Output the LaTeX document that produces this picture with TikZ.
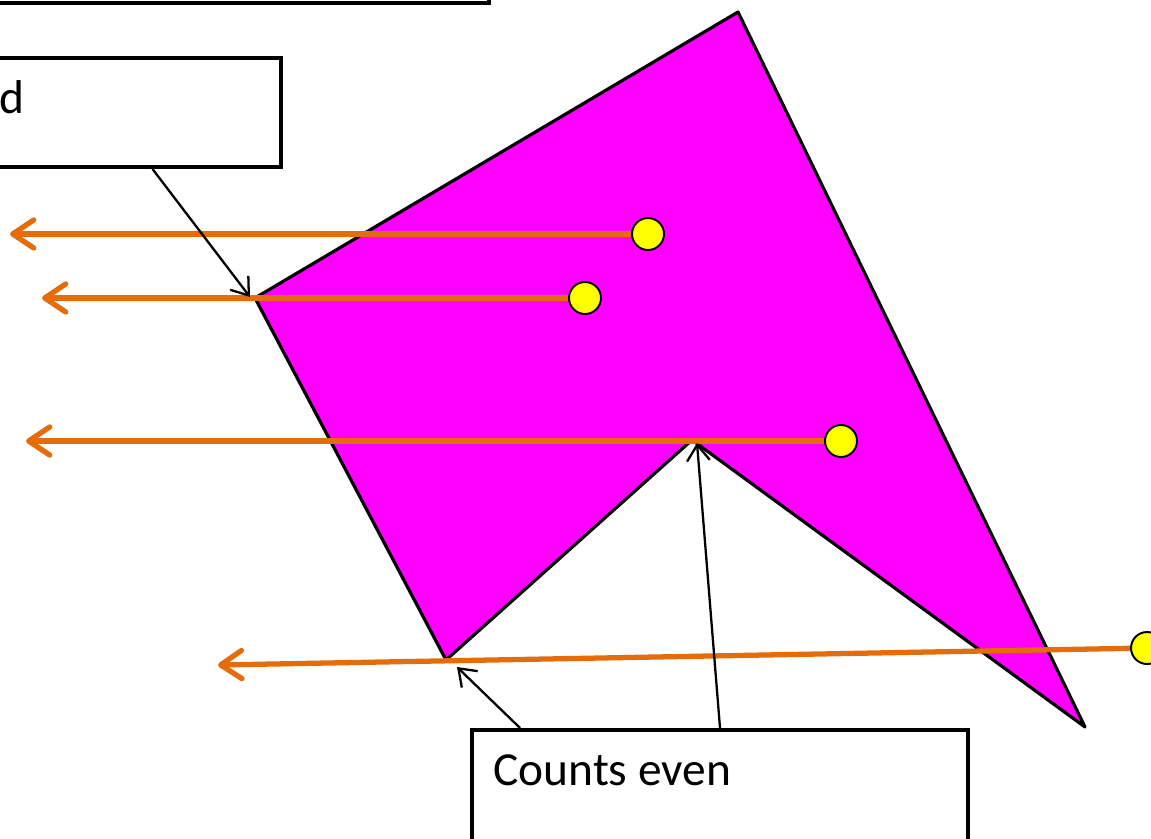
\documentclass[tikz,border=0pt]{standalone}
\usepackage{fontspec}
\setmainfont{Carlito}
\usetikzlibrary{arrows.meta,calc}
\definecolor{orng}{HTML}{E46C0A}
\definecolor{mag}{HTML}{FF00FF}
\definecolor{yel}{HTML}{FFFF00}
\begin{document}
\begin{tikzpicture}[x=0.02cm,y=-0.02cm,
  box/.style={draw=black,line width=2.3pt,fill=white,inner sep=0pt},
  lbl/.style={font=\fontsize{27}{32}\selectfont,inner sep=0pt,anchor=base west},
  ray/.style={draw=orng,line width=3pt,line cap=round,
    -{Straight Barb[length=12pt,width=16pt,line cap=round,line join=round]}},
  ptr/.style={draw=black,line width=1.3pt,
    -{Straight Barb[length=9pt,width=13pt]}},
  dot/.style={circle,draw=black,line width=1.1pt,fill=yel,minimum size=0.64cm,inner sep=0pt}]
\useasboundingbox (0,0) rectangle (1151,838);
\clip (0,0) rectangle (1151,838);
% polygon
\coordinate (pT) at (738,12);
\coordinate (pR) at (1085,727);
\coordinate (pN) at (692,440);
\coordinate (pB) at (446,660);
\coordinate (pL) at (255,298);
\fill[mag,draw=black,line width=1.8pt,line join=round] (pT) -- (pR) -- (pN) -- (pB) -- (pL) -- cycle;
% boxes
\node[box,minimum width=10.18cm,minimum height=0.86cm] (box1) at (234.5,-18.5) {};
\node[box,minimum width=6.02cm,minimum height=2.18cm] (box2) at (130.5,112.5) {};
\node[lbl] (t2) at (-1,113) {d};
\node[box,minimum width=9.92cm,minimum height=2.6cm] (box3) at (720,795) {};
\node[lbl] (t3) at (493,785) {Counts even};
% ray points
\coordinate (d1) at (648,234);
\coordinate (d2) at (585,298);
\coordinate (d3) at (841,441);
\coordinate (d4) at (1147,648);
\coordinate (e1) at (10,234);
\coordinate (e2) at (42,298);
\coordinate (e3) at (26,441);
\coordinate (e4) at (218,665);
\draw[ray] (d1) -- (e1);
\draw[ray] (d2) -- (e2);
\draw[ray] (d3) -- (e3);
\draw[ray] (d4) -- (e4);
\node[dot] (c1) at (d1) {};
\node[dot] (c2) at (d2) {};
\node[dot] (c3) at (d3) {};
\node[dot] (c4) at (d4) {};
% pointers
\coordinate (a1) at (250,297);
\coordinate (a2) at (457,667);
\coordinate (a3) at (697,443);
\draw[ptr] ([xshift=0.44cm]box2.south) -- (a1);
\draw[ptr] ([xshift=-4cm]box3.north) -- (a2);
\draw[ptr] (box3.north) -- (a3);
\end{tikzpicture}
\end{document}
